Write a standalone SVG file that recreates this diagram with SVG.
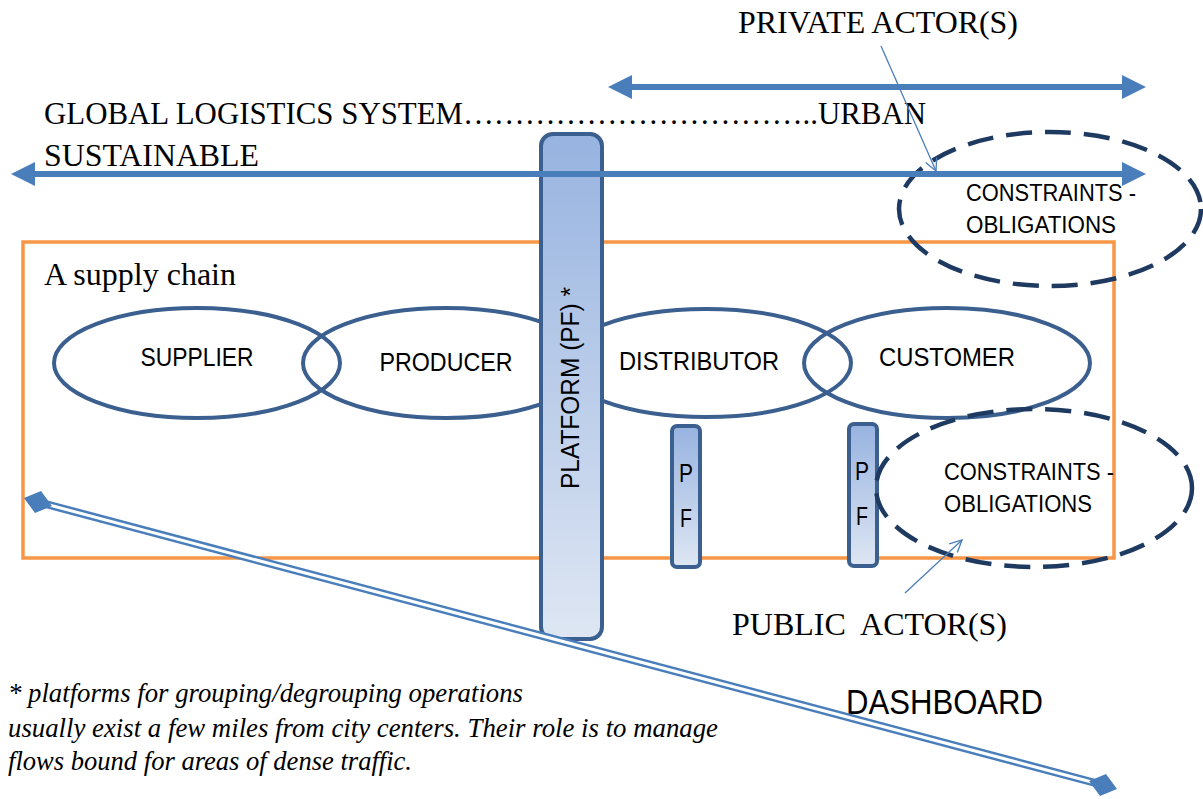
<svg xmlns="http://www.w3.org/2000/svg" width="1203" height="799" viewBox="0 0 1203 799">
<style>
.serif{font-family:"Liberation Serif","Times New Roman",serif;fill:#000}
.sans{font-family:"Liberation Sans",Arial,sans-serif;fill:#000}
.actor{fill:none;stroke:#3B5F8E;stroke-width:4}
.dash{fill:none;stroke:#1F3A60;stroke-width:4.5;stroke-dasharray:26 13}
.pf{fill:url(#pfgrad);stroke:#3B5F8E;stroke-width:4}
.thick{stroke:#4A7EBB;stroke-width:6;fill:none}
.thin{stroke:#4A7EBB;stroke-width:1.3;fill:none}
</style>
<defs>
<linearGradient id="pfgrad" x1="0" y1="0" x2="0" y2="1">
<stop offset="0" stop-color="#97B3E0"/>
<stop offset="1" stop-color="#DEE6F3"/>
</linearGradient>
<marker id="bigHead" viewBox="0 0 24 24" refX="2" refY="12" markerWidth="24" markerHeight="24" markerUnits="userSpaceOnUse" orient="auto-start-reverse">
<path d="M0,0 L24,12 L0,24 Z" fill="#4A7EBB"/>
</marker>
<marker id="openHead" viewBox="0 0 14 14" refX="13" refY="7" markerWidth="14" markerHeight="14" markerUnits="userSpaceOnUse" orient="auto">
<path d="M1,1 L13,7 L1,13" fill="none" stroke="#4A7EBB" stroke-width="1.3"/>
</marker>
</defs>
<rect width="1203" height="799" fill="#fff"/>

<g id="supply-chain">
<rect x="23" y="242" width="1091" height="316" fill="none" stroke="#F79646" stroke-width="3.5"/>
<text class="serif" x="44" y="285" font-size="32" textLength="192" lengthAdjust="spacingAndGlyphs">A supply chain</text>
</g>

<g id="supplier">
<ellipse class="actor" cx="197" cy="363" rx="143" ry="55"/>
<text class="sans" x="197" y="366" font-size="25" text-anchor="middle" textLength="113" lengthAdjust="spacingAndGlyphs">SUPPLIER</text>
</g>
<g id="producer">
<ellipse class="actor" cx="446" cy="363" rx="143" ry="55"/>
<text class="sans" x="446" y="371" font-size="25" text-anchor="middle" textLength="133" lengthAdjust="spacingAndGlyphs">PRODUCER</text>
</g>
<g id="distributor">
<ellipse class="actor" cx="706" cy="363" rx="145" ry="54"/>
<text class="sans" x="699" y="370" font-size="25" text-anchor="middle" textLength="160" lengthAdjust="spacingAndGlyphs">DISTRIBUTOR</text>
</g>
<g id="customer">
<ellipse class="actor" cx="947" cy="363" rx="143" ry="55"/>
<text class="sans" x="947" y="366" font-size="25" text-anchor="middle" textLength="136" lengthAdjust="spacingAndGlyphs">CUSTOMER</text>
</g>

<g id="platform">
<rect class="pf" x="541" y="134" width="61" height="505" rx="12"/>
<text class="sans" transform="translate(579,388) rotate(-90)" font-size="25" text-anchor="middle" textLength="202" lengthAdjust="spacingAndGlyphs">PLATFORM (PF) *</text>
</g>

<g id="pf1">
<rect class="pf" x="672" y="426" width="28" height="141" rx="5"/>
<text class="sans" x="686" y="482" font-size="26" text-anchor="middle" textLength="14" lengthAdjust="spacingAndGlyphs">P</text>
<text class="sans" x="686" y="527" font-size="26" text-anchor="middle" textLength="12" lengthAdjust="spacingAndGlyphs">F</text>
</g>
<g id="pf2">
<rect class="pf" x="849" y="424" width="28" height="142" rx="5"/>
<text class="sans" x="862" y="480" font-size="26" text-anchor="middle" textLength="14" lengthAdjust="spacingAndGlyphs">P</text>
<text class="sans" x="862" y="525" font-size="26" text-anchor="middle" textLength="12" lengthAdjust="spacingAndGlyphs">F</text>
</g>

<g id="constraints-private">
<ellipse class="dash" cx="1050" cy="209" rx="151" ry="77"/>
<text class="sans" x="966" y="201" font-size="23" textLength="170" lengthAdjust="spacingAndGlyphs">CONSTRAINTS -</text>
<text class="sans" x="966" y="233" font-size="23" textLength="150" lengthAdjust="spacingAndGlyphs">OBLIGATIONS</text>
</g>
<g id="constraints-public">
<ellipse class="dash" cx="1034" cy="488" rx="158" ry="79"/>
<text class="sans" x="944" y="480" font-size="23" textLength="170" lengthAdjust="spacingAndGlyphs">CONSTRAINTS -</text>
<text class="sans" x="944" y="512" font-size="23" textLength="148" lengthAdjust="spacingAndGlyphs">OBLIGATIONS</text>
</g>

<g id="labels">
<text class="serif" x="44" y="124" font-size="32" textLength="882" lengthAdjust="spacingAndGlyphs">GLOBAL LOGISTICS SYSTEM……………………………..URBAN</text>
<text class="serif" x="44" y="166" font-size="32" textLength="215" lengthAdjust="spacingAndGlyphs">SUSTAINABLE</text>
<text class="serif" x="738" y="33" font-size="32" textLength="280" lengthAdjust="spacingAndGlyphs">PRIVATE ACTOR(S)</text>
<text class="serif" x="732" y="635" font-size="32" textLength="275" lengthAdjust="spacingAndGlyphs" xml:space="preserve">PUBLIC  ACTOR(S)</text>
<text class="sans" x="846" y="714" font-size="35" textLength="197" lengthAdjust="spacingAndGlyphs">DASHBOARD</text>
<g class="serif" font-style="italic" font-size="27">
<text x="8" y="702" textLength="515" lengthAdjust="spacingAndGlyphs">* platforms for grouping/degrouping operations</text>
<text x="8" y="737" textLength="710" lengthAdjust="spacingAndGlyphs">usually exist a few miles from city centers. Their role is to manage</text>
<text x="8" y="770" textLength="404" lengthAdjust="spacingAndGlyphs">flows bound for areas of dense traffic.</text>
</g>
</g>

<g id="connectors">
<line class="thick" x1="630" y1="87" x2="1124" y2="87" marker-start="url(#bigHead)" marker-end="url(#bigHead)"/>
<line class="thick" x1="33" y1="174" x2="1124" y2="174" marker-start="url(#bigHead)" marker-end="url(#bigHead)"/>
<line class="thin" x1="881" y1="46" x2="936" y2="171" marker-end="url(#openHead)"/>
<line class="thin" x1="905" y1="593" x2="962" y2="540" marker-end="url(#openHead)"/>
<g id="dashboard-link">
<line x1="38" y1="502" x2="1103" y2="785" stroke="#4A7EBB" stroke-width="8"/>
<line x1="38" y1="502" x2="1103" y2="785" stroke="#fff" stroke-width="3"/>
<polygon points="24,498 41,491 52,506 35,513" fill="#4A7EBB"/>
<polygon points="1089,781 1106,774 1117,789 1100,796" fill="#4A7EBB"/>
</g>
</g>
</svg>
